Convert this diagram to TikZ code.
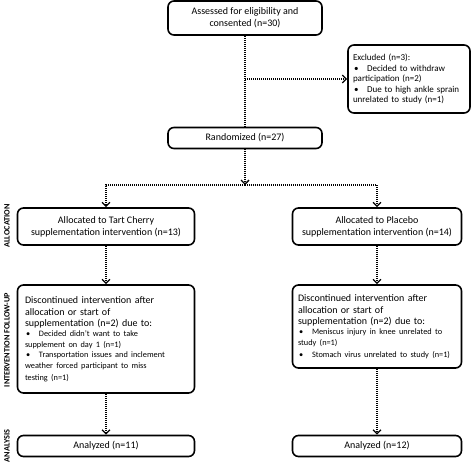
\documentclass[tikz,border=0pt]{standalone}
\usepackage{fontspec}
\setmainfont{Carlito}
\usetikzlibrary{arrows.meta}
\newcommand{\itm}{\par\hangindent=14pt\hangafter=1\noindent\makebox[14pt][l]{\hspace{1pt}\textbullet}}
\begin{document}
\begin{tikzpicture}[x=1pt,y=-1pt,
    box/.style={draw, line width=1.6pt, rounded corners=6pt, align=center, inner sep=0pt, font=\fontsize{10}{12}\selectfont},
    flow/.style={line width=1.4pt, dash pattern=on 1pt off 1pt, -{Straight Barb[length=4pt,width=8pt,line width=1.3pt]}},
    phase/.style={rotate=90, font=\bfseries\fontsize{8.2}{9}\selectfont}]
  \useasboundingbox (0,0) rectangle (473,468);
  % enrolment
  \node[box, minimum width=154pt, minimum height=34pt] (assess) at (245,18) {Assessed for eligibility and\\consented (n=30)};
  \node[box, minimum width=122pt, minimum height=68pt, text width=112pt, align=left, font=\fontsize{9}{10.5}\selectfont] (excl) at (409,79)
    {Excluded (n=3):\itm Decided to withdraw\\participation (n=2)\itm Due to high ankle sprain\\unrelated to study (n=1)};
  \node[box, minimum width=154pt, minimum height=21pt] (rand) at (245,138) {Randomized (n=27)};
  \coordinate (mid) at (245,79);
  \coordinate (split) at (245,185);
  \draw[line width=1.4pt, dash pattern=on 1pt off 1pt] (assess) -- (rand);
  \draw[flow] (mid) -- (excl);
  \draw[flow] (rand) -- (split);
  % allocation
  \node[box, minimum width=177pt, minimum height=37pt] (allocL) at (106,226.5) {Allocated to Tart Cherry\\supplementation intervention (n=13)};
  \node[box, minimum width=169pt, minimum height=37pt] (allocR) at (377,226.5) {Allocated to Placebo\\supplementation intervention (n=14)};
  \draw[flow] (split) -| (allocL);
  \draw[flow] (split) -| (allocR);
  % follow-up
  \node[box, minimum width=177pt, minimum height=108pt, text width=162pt, align=left] (discL) at (106,339)
    {\fontsize{10}{12.5}\selectfont Discontinued intervention after\\allocation or start of\\supplementation (n=2) due to:\fontsize{8.3}{10.5}\selectfont
     \itm Decided didn't want to take\\supplement on day 1 (n=1)\itm Transportation issues and inclement\\weather forced participant to miss\\testing (n=1)};
  \node[box, minimum width=169pt, minimum height=83pt, text width=158pt, align=left] (discR) at (377,326.5)
    {\fontsize{10}{12.5}\selectfont Discontinued intervention after\\allocation or start of\\supplementation (n=2) due to:\fontsize{8.3}{10.5}\selectfont
     \itm Meniscus injury in knee unrelated to\\study (n=1)\itm \mbox{Stomach virus unrelated to study (n=1)}};
  \draw[flow] (allocL) -- (discL);
  \draw[flow] (allocR) -- (discR);
  % analysis
  \node[box, minimum width=177pt, minimum height=21pt] (anaL) at (106,446) {Analyzed (n=11)};
  \node[box, minimum width=169pt, minimum height=21pt] (anaR) at (377,446) {Analyzed (n=12)};
  \draw[flow] (discL) -- (anaL);
  \draw[flow] (discR) -- (anaR);
  % phase labels
  \node[phase] (lblAlloc) at (7,226) {ALLOCATION};
  \node[phase] (lblFollow) at (7,340) {INTERVENTION FOLLOW-UP};
  \node[phase] (lblAna) at (7,446) {ANALYSIS};
\end{tikzpicture}
\end{document}
